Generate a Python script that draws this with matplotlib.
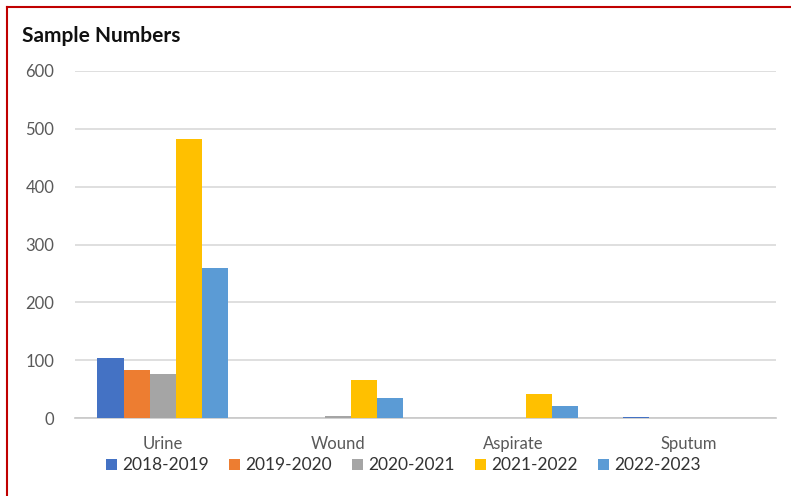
import numpy as np
import matplotlib.pyplot as plt

plt.rcParams['font.family'] = ['Lato', 'DejaVu Sans']

categories = ["Urine", "Wound", "Aspirate", "Sputum"]
seasons = ["2018-2019", "2019-2020", "2020-2021", "2021-2022", "2022-2023"]
s2018 = [104, 1, 1, 2]
s2019 = [83, 1, 0, 0]
s2020 = [76, 4, 1, 0]
s2021 = [483, 66, 41, 0]
s2022 = [259, 34, 21, 0]
series = [s2018, s2019, s2020, s2021, s2022]
colors = ["#4472C4", "#ED7D31", "#A5A5A5", "#FFC000", "#5B9BD5"]

fig = plt.figure(figsize=(7.91, 4.96), dpi=100)
ax = fig.add_axes([0.095, 0.157, 0.886, 0.700])

x = np.arange(len(categories))
w = 0.149
for i, vals in enumerate(series):
    ax.bar(x + (i - 2) * w, vals, width=w, color=colors[i], label=seasons[i], zorder=3)

ax.set_ylim(0, 600)
ax.set_xlim(-0.5, len(categories) - 0.5)
ax.set_yticks(range(0, 601, 100))
ax.yaxis.grid(True, color="#D9D9D9", linewidth=1.2, zorder=0)
for s in ["top", "right", "left"]:
    ax.spines[s].set_visible(False)
ax.spines["bottom"].set_color("#C8C8C8")
ax.spines["bottom"].set_linewidth(1.2)
ax.tick_params(axis="both", length=0, colors="#595959", labelsize=12)
ax.tick_params(axis="y", pad=15)
ax.tick_params(axis="x", pad=13)
ax.set_xticks(x)
ax.set_xticklabels(categories)

fig.text(0.028, 0.928, "Sample Numbers", fontsize=15, fontweight="bold",
         color="#111111", va="center")

fig.legend(loc="center", bbox_to_anchor=(0.51, 0.062), ncol=5, frameon=False,
           handlelength=0.6, handleheight=0.6, handletextpad=0.3, columnspacing=1.2,
           fontsize=12.5, labelcolor="#333333")

# red frame around the picture (top and left edges visible)
fig.add_artist(plt.Line2D([0.009, 1.0], [0.986, 0.986], color="#C00000", linewidth=1.5))
fig.add_artist(plt.Line2D([0.009, 0.009], [0.0, 0.986], color="#C00000", linewidth=1.5))

fig.savefig("out.png", dpi=100)
